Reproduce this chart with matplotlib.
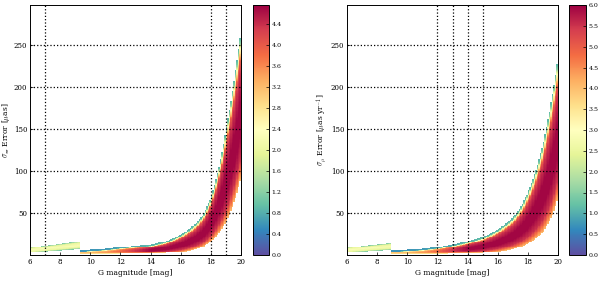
import numpy as np
import matplotlib
matplotlib.use("Agg")
import matplotlib.pyplot as plt

# ---------------- data ----------------
# Left panel: parallax error band, edges per G magnitude
mag_L = [9.3, 10, 11, 12, 13, 14, 15, 16, 17, 17.5, 18, 18.5, 19, 19.5, 20]
lower_L = [1, 1, 1.2, 1.5, 1.7, 2, 2.5, 3.5, 7, 10, 16, 25, 39, 60, 92]
upper_L = [4, 5, 6, 8, 9.5, 11, 15, 23, 36, 47, 67, 100, 147, 201, 265]
bright_mag_L = [6, 9.3]
bright_lo_L = [3, 7]
bright_hi_L = [9, 16]
cbar_max_L = 4.76
cbar_ticks_L = [0.0, 0.4, 0.8, 1.2, 1.6, 2.0, 2.4, 2.8, 3.2, 3.6, 4.0, 4.4]
vlines_L = [7, 18, 19]

# Right panel: proper-motion error band
mag_R = [8.85, 10, 11, 12, 13, 14, 15, 16, 17, 17.5, 18, 18.5, 19, 19.5, 20]
lower_R = [1, 1, 1.1, 1.3, 1.6, 2, 2.5, 4, 7, 9.5, 13, 19, 27, 42, 67]
upper_R = [4, 5, 6, 8, 11, 15, 20, 29, 43, 55, 73, 97, 130, 175, 233]
bright_mag_R = [6, 8.85]
bright_lo_R = [3, 6]
bright_hi_R = [9, 14]
cbar_max_R = 6.0
cbar_ticks_R = [0.0, 0.5, 1.0, 1.5, 2.0, 2.5, 3.0, 3.5, 4.0, 4.5, 5.0, 5.5, 6.0]
vlines_R = [12, 13, 14, 15]

# density strength along magnitude (fraction of colour-bar maximum)
amp_mag = [8.85, 10, 11, 12, 13, 14, 20]
amp_val = [0.66, 0.68, 0.74, 0.82, 0.92, 1.0, 1.0]
# profile across the band (0 = lower edge, 1 = upper edge)
prof_t = [0, 0.07, 0.14, 0.3, 0.55, 0.75, 0.84, 0.89, 0.93, 0.96, 1.0]
prof_f = [0.67, 0.80, 0.92, 0.99, 0.99, 0.92, 0.84, 0.63, 0.50, 0.28, 0.18]
bright_t = [0, 0.2, 0.5, 0.8, 1.0]
bright_f = [0.22, 0.42, 0.47, 0.42, 0.22]

xticks = [6, 8, 10, 12, 14, 16, 18, 20]
yticks = [50, 100, 150, 200, 250]
ylabel_L = r"$\sigma_\varpi$ Error [$\mu$as]"
ylabel_R = r"$\sigma_\mu$ Error [$\mu$as yr$^{-1}$]"
xlabel = "G magnitude [mag]"

# ---------------- build the density grids ----------------
xe = np.arange(6.0, 20.0001, 0.1)
ye = np.arange(0.0, 300.0001, 1.0)
xc = 0.5 * (xe[1:] + xe[:-1])
yc = 0.5 * (ye[1:] + ye[:-1])


def build(mags, lo, hi, bmags, blo, bhi, vmax):
    Z = np.full((len(yc), len(xc)), np.nan)
    for j, g in enumerate(xc):
        if g >= mags[0]:
            l = np.exp(np.interp(g, mags, np.log(lo)))
            h = np.exp(np.interp(g, mags, np.log(hi)))
            a = np.interp(g, amp_mag, amp_val)
            m = (yc >= l) & (yc <= h + 1.5)
            t = np.clip((yc[m] - l) / (h - l), 0, 1)
            Z[m, j] = a * vmax * np.interp(t, prof_t, prof_f)
        elif g <= bmags[-1]:
            l = np.interp(g, bmags, blo)
            h = np.interp(g, bmags, bhi)
            m = (yc >= l) & (yc <= h)
            t = (yc[m] - l) / (h - l)
            Z[m, j] = vmax * np.interp(t, bright_t, bright_f)
    return np.ma.masked_invalid(Z)


ZL = build(mag_L, lower_L, upper_L, bright_mag_L, bright_lo_L, bright_hi_L, cbar_max_L)
ZR = build(mag_R, lower_R, upper_R, bright_mag_R, bright_lo_R, bright_hi_R, cbar_max_R)

# ---------------- figure ----------------
plt.rcParams["font.family"] = ["DejaVu Serif"]
plt.rcParams["mathtext.fontset"] = "cm"
fs = 5

fig = plt.figure(figsize=(6.0, 2.81), dpi=100)
W, H = 600.0, 281.0
bot = (H - 255) / H
hgt = 250 / H
axL = fig.add_axes([30 / W, bot, 211 / W, hgt])
caxL = fig.add_axes([253 / W, bot, 16 / W, hgt])
axR = fig.add_axes([347 / W, bot, 211 / W, hgt])
caxR = fig.add_axes([569 / W, bot, 17 / W, hgt])

for ax, cax, Z, vmax, cticks, vl, ylab in [
    (axL, caxL, ZL, cbar_max_L, cbar_ticks_L, vlines_L, ylabel_L),
    (axR, caxR, ZR, cbar_max_R, cbar_ticks_R, vlines_R, ylabel_R),
]:
    mesh = ax.pcolormesh(xe, ye, Z, cmap="Spectral_r", vmin=0, vmax=vmax,
                         shading="flat", rasterized=True)
    ax.set_xlim(6, 20)
    ax.set_ylim(0, 298)
    ax.set_xticks(xticks)
    ax.set_yticks(yticks)
    ax.yaxis.grid(True, color="black", linestyle=":", linewidth=0.9)
    for v in vl:
        ax.axvline(v, color="black", linestyle=":", linewidth=0.9)
    ax.tick_params(labelsize=fs, direction="in", length=2, width=0.5, pad=2)
    ax.set_xlabel(xlabel, fontsize=fs + 0.5, labelpad=2)
    ax.set_ylabel(ylab, fontsize=fs + 0.5, labelpad=1)
    for s in ax.spines.values():
        s.set_linewidth(0.7)
    cb = fig.colorbar(mesh, cax=cax, ticks=cticks)
    cb.ax.tick_params(labelsize=fs - 0.5, direction="in", length=2, width=0.5, pad=2)
    cb.ax.set_yticklabels([f"{t:.1f}" for t in cticks])
    cb.outline.set_linewidth(0.7)

fig.savefig("out.png", dpi=100)
